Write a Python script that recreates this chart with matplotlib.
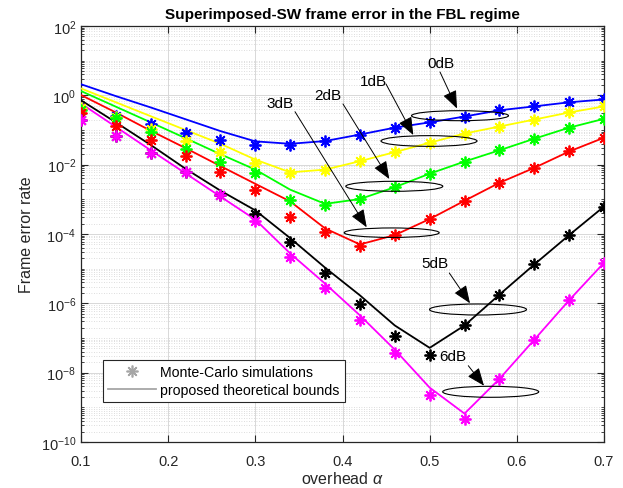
import numpy as np
import matplotlib
matplotlib.use("Agg")
import matplotlib.pyplot as plt
from matplotlib.patches import Ellipse, FancyArrowPatch
from matplotlib.lines import Line2D

plt.rcParams['font.family'] = ['Liberation Sans', 'DejaVu Sans']
plt.rcParams['mathtext.fontset'] = 'custom'
plt.rcParams['mathtext.rm'] = 'Liberation Sans'
plt.rcParams['mathtext.it'] = 'Liberation Sans:italic'
plt.rcParams['mathtext.bf'] = 'Liberation Sans:bold'

# ---------------- data ----------------
alpha = [0.10, 0.14, 0.18, 0.22, 0.26, 0.30, 0.34, 0.38,
         0.42, 0.46, 0.50, 0.54, 0.58, 0.62, 0.66, 0.70]

snr_labels = ['0dB', '1dB', '2dB', '3dB', '5dB', '6dB']
colors = ['#0000ff', '#ffff00', '#00ff00', '#ff0000', '#000000', '#ff00ff']

bound_0dB = [2.09, 9.5e-1, 4.47e-1, 2.04e-1, 9.3e-2, 4.7e-2, 4.0e-2, 4.8e-2,
             7.4e-2, 1.17e-1, 1.66e-1, 2.45e-1, 3.7e-1, 4.8e-1, 6.3e-1, 7.6e-1]
mc_0dB = [4.4e-1, 2.6e-1, 1.5e-1, 8.3e-2, 5.0e-2, 3.8e-2, 3.6e-2, 4.8e-2,
          7.4e-2, 1.17e-1, 1.66e-1, 2.45e-1, 3.7e-1, 4.8e-1, 6.3e-1, 7.6e-1]

bound_1dB = [1.58, 6.3e-1, 2.5e-1, 1.0e-1, 4.0e-2, 1.4e-2, 6.0e-3, 7.2e-3,
             1.26e-2, 2.3e-2, 4.3e-2, 7.9e-2, 1.26e-1, 2.0e-1, 3.2e-1, 4.8e-1]
mc_1dB = [4.2e-1, 2.4e-1, 1.05e-1, 4.8e-2, 2.3e-2, 1.12e-2, 5.8e-3, 7.2e-3,
          1.26e-2, 2.3e-2, 4.3e-2, 7.9e-2, 1.26e-1, 2.0e-1, 3.2e-1, 4.8e-1]

bound_2dB = [1.33, 4.7e-1, 1.66e-1, 5.8e-2, 2.0e-2, 7.2e-3, 1.9e-3, 7.4e-4,
             1.02e-3, 2.24e-3, 5.5e-3, 1.23e-2, 2.6e-2, 5.6e-2, 1.17e-1, 2.1e-1]
mc_2dB = [3.7e-1, 2.2e-1, 8.9e-2, 2.9e-2, 1.2e-2, 5.6e-3, 9.8e-4, 6.9e-4,
          1.02e-3, 2.24e-3, 5.5e-3, 1.23e-2, 2.6e-2, 5.6e-2, 1.17e-1, 2.1e-1]

bound_3dB = [1.02, 3.2e-1, 9.5e-2, 3.0e-2, 9.1e-3, 2.8e-3, 8.7e-4, 1.45e-4,
             5.0e-5, 9.3e-5, 2.7e-4, 9.1e-4, 3.0e-3, 8.1e-3, 2.4e-2, 6.0e-2]
mc_3dB = [3.0e-1, 1.3e-1, 5.0e-2, 1.74e-2, 6.2e-3, 1.86e-3, 3.0e-4, 1.17e-4,
          4.5e-5, 9.3e-5, 2.7e-4, 9.1e-4, 3.0e-3, 8.1e-3, 2.4e-2, 6.0e-2]

bound_5dB = [7.2e-1, 1.66e-1, 3.7e-2, 7.6e-3, 1.78e-3, 4.8e-4, 7.6e-5, 1.07e-5,
             1.7e-6, 2.3e-7, 5.2e-8, 2.3e-7, 1.78e-6, 1.32e-5, 9.3e-5, 6.2e-4]
mc_5dB = [2.0e-1, 6.6e-2, 2.1e-2, 6.2e-3, 1.35e-3, 3.7e-4, 6.0e-5, 7.4e-6,
          9.8e-7, 1.17e-7, 3.2e-8, 2.3e-7, 1.78e-6, 1.32e-5, 9.3e-5, 6.2e-4]

bound_6dB = [5.8e-1, 1.23e-1, 2.6e-2, 5.6e-3, 1.2e-3, 2.6e-4, 2.75e-5, 3.7e-6,
             4.5e-7, 4.6e-8, 3.7e-9, 6.6e-10, 6.6e-9, 8.9e-8, 1.23e-6, 1.48e-5]
mc_6dB = [2.0e-1, 6.6e-2, 2.1e-2, 6.2e-3, 1.35e-3, 2.3e-4, 2.1e-5, 2.8e-6,
          3.2e-7, 3.6e-8, 2.3e-9, 4.6e-10, 6.6e-9, 8.9e-8, 1.23e-6, 1.48e-5]

bounds = [bound_0dB, bound_1dB, bound_2dB, bound_3dB, bound_5dB, bound_6dB]
mcs = [mc_0dB, mc_1dB, mc_2dB, mc_3dB, mc_5dB, mc_6dB]

xticks = [0.1, 0.2, 0.3, 0.4, 0.5, 0.6, 0.7]
yexps = [-10, -8, -6, -4, -2, 0, 2]

# ---------------- figure ----------------
W, H = 623, 489
fig = plt.figure(figsize=(W / 100, H / 100), dpi=100)
ax = fig.add_axes([81 / W, 1 - 443 / H, (604 - 81) / W, (443 - 27) / H])

star = (8, 2, 0)
for b, c in zip(bounds, colors):
    ax.plot(alpha, b, '-', color=c, lw=1.3, zorder=3)
for m, c in zip(mcs, colors):
    ax.plot(alpha, m, linestyle='none', marker=star, ms=8.5, mew=1.3,
            color=c, zorder=4)

ax.set_yscale('log')
ax.set_xlim(0.1, 0.7)
ax.set_ylim(1e-10, 1e2)
ax.set_xticks(xticks)
ax.set_xticklabels([f'{t:.1f}' for t in xticks])
ax.set_yticks([10.0 ** e for e in yexps])
ax.set_yticklabels([r'$10^{%d}$' % e for e in yexps])
minor = [m * 10.0 ** k for k in range(-10, 2) for m in range(1, 10)
         if not (m == 1 and k % 2 == 0)]
ax.yaxis.set_minor_locator(matplotlib.ticker.FixedLocator(minor))
ax.yaxis.set_minor_formatter(matplotlib.ticker.NullFormatter())
ax.xaxis.set_minor_locator(matplotlib.ticker.NullLocator())

ax.set_axisbelow(True)
ax.grid(True, which='major', color='#d8d8d8', lw=0.7, ls='-')
ax.yaxis.grid(True, which='minor', color='#d2d2d2', lw=0.6, ls=(0, (1, 2)))

ax.tick_params(which='both', direction='in', top=True, right=True,
               colors='#262626', labelcolor='#262626')
ax.tick_params(which='major', length=5, width=0.8, labelsize=10.5)
ax.tick_params(axis='x', which='major', pad=8.5)
ax.tick_params(which='minor', length=2.5, width=0.6)
for s in ax.spines.values():
    s.set_color('#262626')
    s.set_linewidth(0.9)

ax.set_title('Superimposed-SW frame error in the FBL regime',
             fontsize=11, fontweight='bold', pad=6)
ax.set_xlabel(r'overhead $\alpha$', fontsize=11.5, color='#262626', labelpad=1.5)
ax.set_ylabel('Frame error rate', fontsize=11.5, color='#262626', labelpad=5)

# legend
handles = [Line2D([], [], linestyle='none', marker=star, ms=8.5, mew=1.2,
                  color='#a6a6a6'),
           Line2D([], [], color='#a6a6a6', lw=1.3)]
leg = ax.legend(handles, ['Monte-Carlo simulations', 'proposed theoretical bounds'],
                loc='lower left', bbox_to_anchor=(103 / W, 1 - 403 / H),
                bbox_transform=fig.transFigure, borderaxespad=0,
                fancybox=False, framealpha=1, edgecolor='#262626',
                fontsize=10.2, handlelength=3.4, handletextpad=0.3,
                borderpad=0.35, labelspacing=0.3)
leg.get_frame().set_linewidth(0.8)
leg.set_zorder(10)


def P(x, y):
    return (x / W, 1 - y / H)


# annotations: (label, text center, arrow start, arrow tip, ellipse center, w, h)
annots = [
    ('0dB', (441, 63.5), (440, 73), (457, 109.5), (460, 116.7), 97, 10),
    ('1dB', (373.7, 81.7), (386, 85), (413.3, 136), (429, 142), 96, 10.7),
    ('2dB', (328, 96), (343, 105), (389.3, 180), (394.3, 187.3), 97, 10),
    ('3dB', (280, 103.5), (295, 112.7), (366.7, 228.3), (391.7, 233.7), 95, 9.5),
    ('5dB', (434.5, 263.8), (449.3, 274), (470, 304.3), (478, 310.5), 97, 11),
    ('6dB', (453, 357), (468.3, 366.7), (484, 386.7), (490.7, 392.8), 96, 11),
]
for lab, tc, a0, a1, ec, ew, eh in annots:
    fig.text(*P(*tc), lab, ha='center', va='center', fontsize=11,
             color='#000000')
    arr = FancyArrowPatch(P(*a0), P(*a1), transform=fig.transFigure,
                          arrowstyle='-|>,head_length=0.55,head_width=0.22',
                          mutation_scale=20, color='k', lw=0.7,
                          shrinkA=0, shrinkB=0)
    fig.add_artist(arr)
    el = Ellipse(P(*ec), ew / W, eh / H, transform=fig.transFigure,
                 fill=False, edgecolor='k', lw=0.8)
    fig.add_artist(el)

fig.savefig('out.png', dpi=100)
